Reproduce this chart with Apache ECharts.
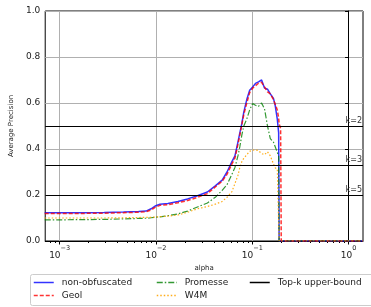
<!DOCTYPE html>
<html>
<head>
<meta charset="utf-8">
<title>Average Precision vs alpha</title>
<script src="https://cdn.jsdelivr.net/npm/echarts@6/dist/echarts.min.js"></script>
<style>
	html, body { margin: 0; padding: 0; background: #fff; }
	#chart { width: 371px; height: 307px; }
</style>
</head>
<body>
<div id="chart"></div>
<script>
	// alpha values (shared by every curve)
	var alpha = [0.0007, 0.001, 0.0018, 0.0029, 0.0046, 0.0066, 0.0079, 0.0089, 0.0098, 0.011,
		0.0133, 0.0169, 0.0213, 0.027, 0.0342, 0.0413, 0.0487, 0.0547, 0.0615, 0.0661,
		0.071, 0.0743, 0.0779, 0.0817, 0.0877, 0.094, 0.101, 0.108, 0.116, 0.125,
		0.134, 0.144, 0.154, 0.166, 0.173, 0.182, 0.188, 0.19, 0.197, 0.2, 0.32, 1.41];

	var apNonObf = [0.123, 0.123, 0.123, 0.124, 0.126, 0.128, 0.130, 0.140, 0.152, 0.160,
		0.163, 0.172, 0.183, 0.197, 0.213, 0.240, 0.265, 0.300, 0.345, 0.370,
		0.430, 0.470, 0.510, 0.560, 0.615, 0.655, 0.670, 0.685, 0.692, 0.700,
		0.665, 0.660, 0.640, 0.620, 0.590, 0.530, 0.470, 0, 0, 0, 0, 0];

	var apGeol = [0.120, 0.120, 0.120, 0.121, 0.123, 0.125, 0.127, 0.135, 0.146, 0.155,
		0.158, 0.166, 0.176, 0.190, 0.206, 0.235, 0.260, 0.290, 0.335, 0.360,
		0.420, 0.460, 0.505, 0.550, 0.600, 0.645, 0.665, 0.675, 0.686, 0.690,
		0.670, 0.648, 0.640, 0.615, 0.595, 0.570, 0.535, 0.510, 0.490, 0, 0, 0];

	var apPromesse = [0.092, 0.092, 0.093, 0.094, 0.096, 0.098, 0.099, 0.101, 0.103, 0.105,
		0.110, 0.118, 0.130, 0.148, 0.165, 0.190, 0.220, 0.245, 0.290, 0.320,
		0.370, 0.410, 0.460, 0.500, 0.530, 0.570, 0.598, 0.590, 0.585, 0.600,
		0.575, 0.500, 0.445, 0.430, 0.425, 0.385, 0.370, 0, 0, 0, 0, 0];

	var apW4M = [0.100, 0.100, 0.100, 0.100, 0.101, 0.102, 0.103, 0.103, 0.104, 0.106,
		0.108, 0.113, 0.125, 0.140, 0.150, 0.160, 0.172, 0.190, 0.215, 0.250,
		0.285, 0.320, 0.345, 0.360, 0.375, 0.390, 0.395, 0.396, 0.393, 0.380,
		0.375, 0.388, 0.370, 0.335, 0.318, 0.312, 0.310, 0, 0, 0, 0, 0];

	var topK = [2, 3, 5];
	var xDecades = [-3, -2, -1, 0];
	var minorSteps = [2, 3, 4, 5, 6, 7, 8, 9];
	var xMin = -3.15, xMax = 0.15;

	function pairs(vals) {
		return alpha.map(function (a, i) { return [Math.log10(a), vals[i]]; });
	}

	// log minor ticks (2..9 x 10^k) inside the range
	var minorTicks = [];
	[-4, -3, -2, -1, 0].forEach(function (d) {
		minorSteps.forEach(function (m) {
			var v = d + Math.log10(m);
			if (v > xMin && v < xMax) minorTicks.push(v);
		});
	});

	var font = 'DejaVu Sans';
	var chart = echarts.init(document.getElementById('chart'));

	var legendBase = {
		orient: 'vertical',
		top: 278,
		padding: 0,
		itemWidth: 20,
		itemHeight: 10,
		itemGap: 4,
		selectedMode: false,
		itemStyle: { opacity: 0, borderWidth: 0 },
		lineStyle: { width: 1.5 },
		textStyle: { fontFamily: font, fontSize: 9, color: '#222', padding: [0, 0, 0, 3] }
	};

	var options = {
		animation: false,
		grid: { left: 40, top: 11, right: 8, bottom: 66, show: true, borderColor: '#000', borderWidth: 1, backgroundColor: 'transparent' },
		xAxis: [{
			type: 'value',
			min: xMin,
			max: xMax,
			name: 'alpha',
			nameLocation: 'middle',
			nameGap: 20,
			nameTextStyle: { fontFamily: font, fontSize: 7, color: '#222' },
			axisLine: { lineStyle: { color: '#000' } },
			axisTick: { customValues: xDecades, length: 3.5, lineStyle: { color: '#000' } },
			splitLine: { show: true, lineStyle: { color: '#b0b0b0', width: 1 } },
			axisLabel: {
				customValues: xDecades,
				margin: 4,
				formatter: function (v) { return '{b|10}{e|' + String(v).replace('-', '\u2212') + '}'; },
				rich: {
					b: { fontFamily: font, fontSize: 9, color: '#222', verticalAlign: 'bottom', lineHeight: 15 },
					e: { fontFamily: font, fontSize: 6.5, color: '#222', verticalAlign: 'top', lineHeight: 7 }
				}
			}
		}, {
			type: 'value',
			min: xMin,
			max: xMax,
			position: 'bottom',
			axisLine: { show: false },
			axisTick: { customValues: minorTicks, length: 2, lineStyle: { color: '#000' } },
			axisLabel: { show: false },
			splitLine: { show: false }
		}],
		yAxis: {
			type: 'value',
			min: 0,
			max: 1,
			interval: 0.2,
			name: 'Average Precision',
			nameLocation: 'middle',
			nameGap: 25,
			nameTextStyle: { fontFamily: font, fontSize: 7, color: '#222' },
			axisLine: { show: true, lineStyle: { color: '#000' } },
			axisTick: { show: true, length: 3.5, lineStyle: { color: '#000' } },
			splitLine: { show: true, lineStyle: { color: '#b0b0b0', width: 1 } },
			axisLabel: {
				margin: 5,
				fontFamily: font,
				fontSize: 9,
				color: '#222',
				formatter: function (v) { return v.toFixed(1); }
			}
		},
		legend: [
			Object.assign({}, legendBase, { left: 33, data: ['non-obfuscated', 'Geol'] }),
			Object.assign({}, legendBase, { left: 156, data: ['Promesse', 'W4M'] }),
			Object.assign({}, legendBase, { left: 249, data: ['Top-k upper-bound'] })
		],
		graphic: [{
			type: 'rect',
			left: 30,
			top: 274,
			z: 1,
			shape: { width: 360, height: 31, r: 2 },
			style: { fill: '#fff', stroke: '#cccccc', lineWidth: 1 }
		}],
		series: [
			{
				name: 'non-obfuscated', type: 'line', symbol: 'none', data: pairs(apNonObf),
				color: '#0000ff', lineStyle: { width: 1.5, opacity: 0.8 }
			},
			{
				name: 'Geol', type: 'line', symbol: 'none', data: pairs(apGeol),
				color: '#ff0000', lineStyle: { width: 1.5, type: [4, 2], opacity: 0.8 }
			},
			{
				name: 'Promesse', type: 'line', symbol: 'none', data: pairs(apPromesse),
				color: '#008000', lineStyle: { width: 1.2, type: [6, 2, 1.5, 2], opacity: 0.8 }
			},
			{
				name: 'W4M', type: 'line', symbol: 'none', data: pairs(apW4M),
				color: '#ffa500', lineStyle: { width: 1.2, type: [1.5, 2], opacity: 0.9 }
			},
			{
				name: 'Top-k upper-bound', type: 'line', symbol: 'none', data: [],
				color: '#000', lineStyle: { width: 1.2 },
				markLine: {
					silent: true,
					symbol: 'none',
					lineStyle: { color: '#000', width: 1.2, type: 'solid' },
					label: {
						position: 'insideEndTop',
						distance: [1, 1],
						fontFamily: font,
						fontSize: 8,
						color: '#333',
						formatter: function (p) { return p.name; }
					},
					data: topK.map(function (k) { return { name: 'k=' + k, yAxis: 1 / k }; })
				}
			}
		]
	};
	chart.setOption(options);
</script>
</body>
</html>
